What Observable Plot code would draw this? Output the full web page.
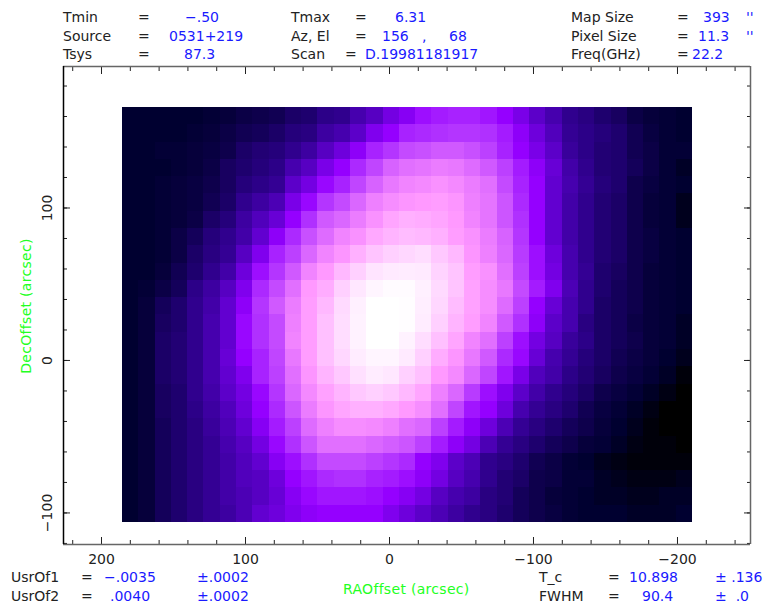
<!DOCTYPE html>
<html><head><meta charset="utf-8">
<script src="https://cdn.jsdelivr.net/npm/d3@7"></script>
<script src="https://cdn.jsdelivr.net/npm/@observablehq/plot@0.6"></script>
<style>
html,body{margin:0;padding:0;background:#fff}
#wrap{position:relative;width:767px;height:609px;overflow:hidden;font-family:"DejaVu Sans",sans-serif;font-size:14px}
#wrap svg{position:absolute;left:0;top:0}
.t{position:absolute;white-space:pre;line-height:18px;height:18px;color:#222}
.v{color:#1a1aff}
.g{color:#22ff22;letter-spacing:.3px}
</style></head><body><div id="wrap"></div>
<script>
// Map brightness per pixel, 0 (coldest) to 100 (hottest); top row first, first column at +RA
const mapRows = [
[5,5,5,5,5,6,7,9,10,11,14,15,19,20,25,28,33,36,40,42,43,43,41,38,34,29,25,20,18,15,13,9,7,6,5],
[5,5,5,5,6,7,9,11,12,14,17,18,23,25,29,35,38,43,44,45,46,46,45,42,37,32,27,21,19,17,15,11,8,6,5],
[5,5,6,6,7,8,10,14,16,17,20,23,28,32,37,43,46,50,51,53,53,51,48,43,38,34,29,22,19,16,15,11,9,6,6],
[5,5,5,6,7,9,13,15,17,19,25,28,34,38,44,49,55,58,59,61,60,57,53,48,42,37,31,24,20,16,15,12,9,6,4],
[5,5,6,7,8,10,13,17,19,21,29,33,39,43,49,55,60,63,64,66,64,61,58,50,43,38,30,25,21,17,15,10,8,6,5],
[5,5,6,7,8,11,14,20,23,26,34,39,46,50,56,62,65,67,68,69,67,62,59,52,44,38,30,24,20,16,14,10,7,6,3],
[5,5,6,7,9,14,17,23,27,31,38,45,53,56,61,66,71,74,73,71,68,63,59,52,45,38,30,24,20,16,14,10,7,6,3],
[5,5,6,9,12,17,20,24,30,37,44,51,57,63,66,72,75,77,76,74,69,66,61,55,46,38,30,24,20,16,14,10,8,6,5],
[5,5,6,9,14,18,21,28,35,43,48,56,63,67,74,79,82,84,86,80,76,67,62,56,47,40,32,25,20,16,14,10,8,6,5],
[5,5,7,11,15,20,24,32,40,46,53,63,68,76,82,88,90,91,90,83,79,69,66,58,48,40,33,25,21,15,13,10,7,6,5],
[5,6,9,12,19,23,28,35,44,50,58,68,73,82,89,95,98,98,93,85,79,70,65,60,50,42,35,26,20,15,12,10,7,6,5],
[5,7,12,15,20,24,30,37,46,53,61,69,76,85,93,100,100,99,92,84,77,70,65,57,48,38,31,25,20,14,12,10,7,6,5],
[5,7,13,15,20,25,30,39,45,50,62,69,78,86,94,100,100,99,91,82,75,69,63,53,45,37,29,25,18,14,12,9,7,6,4],
[5,7,14,16,20,25,30,39,45,50,63,69,78,86,94,100,100,94,86,78,71,63,58,48,40,33,28,22,19,14,12,10,7,6,4],
[5,7,14,16,20,25,31,38,43,49,60,69,78,84,91,95,95,90,82,73,67,60,53,44,39,31,25,21,17,14,11,9,7,5,3],
[5,7,14,16,20,25,30,35,43,48,58,67,75,80,87,91,89,82,78,68,64,56,49,41,34,27,24,19,16,13,10,8,6,4,1],
[5,7,13,15,20,24,29,33,39,46,56,64,70,75,80,82,80,76,71,62,56,47,40,35,29,24,20,17,14,10,8,6,4,2,0],
[5,7,13,15,19,23,27,32,38,44,52,61,67,71,74,74,72,68,65,58,49,41,38,32,25,21,18,15,11,8,6,4,2,0,0],
[5,7,12,15,18,22,26,30,36,42,48,57,62,65,65,64,62,58,56,48,42,37,32,26,21,18,15,12,10,7,5,3,1,0,0],
[5,7,12,15,18,21,25,28,33,39,45,52,58,58,58,56,54,52,48,42,37,33,26,21,18,15,12,10,7,6,4,2,1,1,0],
[5,7,12,15,18,21,24,27,30,36,40,45,50,50,50,48,46,44,38,35,29,26,20,18,15,11,9,6,5,3,2,1,1,1,1],
[5,7,12,15,18,21,24,27,28,32,38,41,44,45,45,43,42,40,37,33,28,25,20,16,14,10,9,6,6,4,3,2,2,2,3],
[5,7,12,15,18,21,24,26,28,31,36,39,41,41,41,40,38,36,33,28,25,23,18,16,12,10,7,6,5,4,4,3,3,4,4],
[5,7,12,15,18,21,23,26,30,32,35,37,38,38,38,38,35,32,29,26,23,20,18,15,12,10,8,6,5,5,5,4,4,4,5]
];
// Map geometry in arcsec
const raStart = 185.4, raStep = 11.31, decStart = 165.9, decStep = 11.34;
const raDomain = [226.4, -250.7], decDomain = [-120.7, 192.8];
const majorTicks = [-200, -100, 0, 100, 200];
const minorRA = d3.range(-240, 221, 20), minorDec = d3.range(-120, 181, 20);
// Colour ramp
const rampStops = [0,5,10,15,20,25,30,35,38,45,52,60,68,75,82,90,100];
const rampColors = ["#000000","#000030","#0e004c","#1e006e","#30008e","#4600ae","#6200d0","#8000ee","#9500ff","#b030ff","#cc55ff","#e878ff","#ff99ff","#ffb4ff","#ffd0ff","#ffeaff","#ffffff"];

const cells = mapRows.flatMap((row, r) => row.map((v, c) => ({
  ra1: raStart - c * raStep, ra2: raStart - (c + 1) * raStep,
  dec1: decStart - r * decStep, dec2: decStart - (r + 1) * decStep, v
})));
const fmt = d => d < 0 ? "\u2212" + (-d) : String(d);

const chart = Plot.plot({
  width: 767, height: 609,
  marginLeft: 63, marginRight: 17, marginTop: 66, marginBottom: 65,
  style: {background: "transparent", fontFamily: '"DejaVu Sans",sans-serif', fontSize: "14px"},
  x: {domain: raDomain, label: null},
  y: {domain: decDomain, label: null},
  color: {type: "linear", domain: rampStops, range: rampColors, clamp: true},
  marks: [
    Plot.rect(cells, {x1: "ra1", x2: "ra2", y1: "dec1", y2: "dec2", fill: "v", shapeRendering: "crispEdges"}),
    Plot.axisX({anchor: "bottom", ticks: majorTicks, tickSize: -7, tickPadding: 17, tickFormat: fmt, color: "#222", fontSize: 14}),
    Plot.axisX({anchor: "bottom", ticks: minorRA, tickSize: -4, text: null, color: "#222"}),
    Plot.axisX({anchor: "top", ticks: majorTicks, tickSize: -7, text: null, color: "#222"}),
    Plot.axisX({anchor: "top", ticks: minorRA, tickSize: -4, text: null, color: "#222"}),
    Plot.axisY({anchor: "left", ticks: majorTicks.slice(1, 4), tickSize: -7, tickPadding: 19, tickFormat: fmt, tickRotate: -90, color: "#222", fontSize: 14, textAnchor: "middle"}),
    Plot.axisY({anchor: "left", ticks: minorDec, tickSize: -4, text: null, color: "#222"}),
    Plot.axisY({anchor: "right", ticks: majorTicks.slice(1, 4), tickSize: -7, text: null, color: "#222"}),
    Plot.axisY({anchor: "right", ticks: minorDec, tickSize: -4, text: null, color: "#222"}),
    Plot.ruleY([decDomain[1]], {stroke: "#666", strokeWidth: 1.5}),
    Plot.ruleY([decDomain[0]], {stroke: "#666", strokeWidth: 1.5}),
    Plot.ruleX([raDomain[1]], {stroke: "#666", strokeWidth: 1.5}),
    Plot.ruleX([raDomain[0]], {stroke: "#000", strokeWidth: 1.5})
  ]
});
const wrap = document.getElementById("wrap");
wrap.appendChild(chart);

// Annotation text
const headerLabels = ["Tmin","Source","Tsys","Tmax","Az, El","Scan","Map Size","Pixel Size","Freq(GHz)"];
const headerValues = ["\u2212.50","0531+219","87.3","6.31","156","D.19981181917","393","11.3","22.2"];
const footerLabels = ["UsrOf1","UsrOf2","T_c","FWHM"];
const footerValues = ["\u2212.0035",".0040","10.898","90.4"];
const footerErrors = ["\u00b1.0002","\u00b1.0002","\u00b1 .136","\u00b1  .0"];

function put(text, x, yc, cls) {
  const s = document.createElement("span");
  s.className = "t " + (cls || "");
  s.textContent = text;
  s.style.left = x + "px";
  s.style.top = (yc - 9) + "px";
  wrap.appendChild(s);
  return s;
}
const hy = [17, 36, 54];
const hx = [63, 291, 571], heq = [[138,138,138],[355,355,345],[677,677,677]];
const hvx = [[185,169,184],[395,382,365],[703,698,692]];
headerLabels.forEach((t, i) => {
  const c = Math.floor(i / 3), r = i % 3;
  put(t, hx[c], hy[r]);
  put("=", heq[c][r], hy[r]);
  put(headerValues[i], hvx[c][r], hy[r], "v");
});
put(",", 422, 36, "v"); put("68", 449, 36, "v");
put("''", 746, 17, "v"); put("''", 746, 36, "v");

const fy = [577, 596, 577, 596];
const fx = [11, 11, 539, 539], feq = [81, 81, 608, 608], fvx = [104, 110, 629, 642], fex = [197, 197, 715, 715];
footerLabels.forEach((t, i) => {
  put(t, fx[i], fy[i]);
  put("=", feq[i], fy[i]);
  put(footerValues[i], fvx[i], fy[i], "v");
  put(footerErrors[i], fex[i], fy[i], "v");
});
put("RAOffset (arcsec)", 343, 589, "g");
const dec = put("DecOffset (arcsec)", 0, 0, "g");
dec.style.left = "26px"; dec.style.top = "306px";
dec.style.transform = "translate(-50%,-50%) rotate(-90deg)";
</script></body></html>
